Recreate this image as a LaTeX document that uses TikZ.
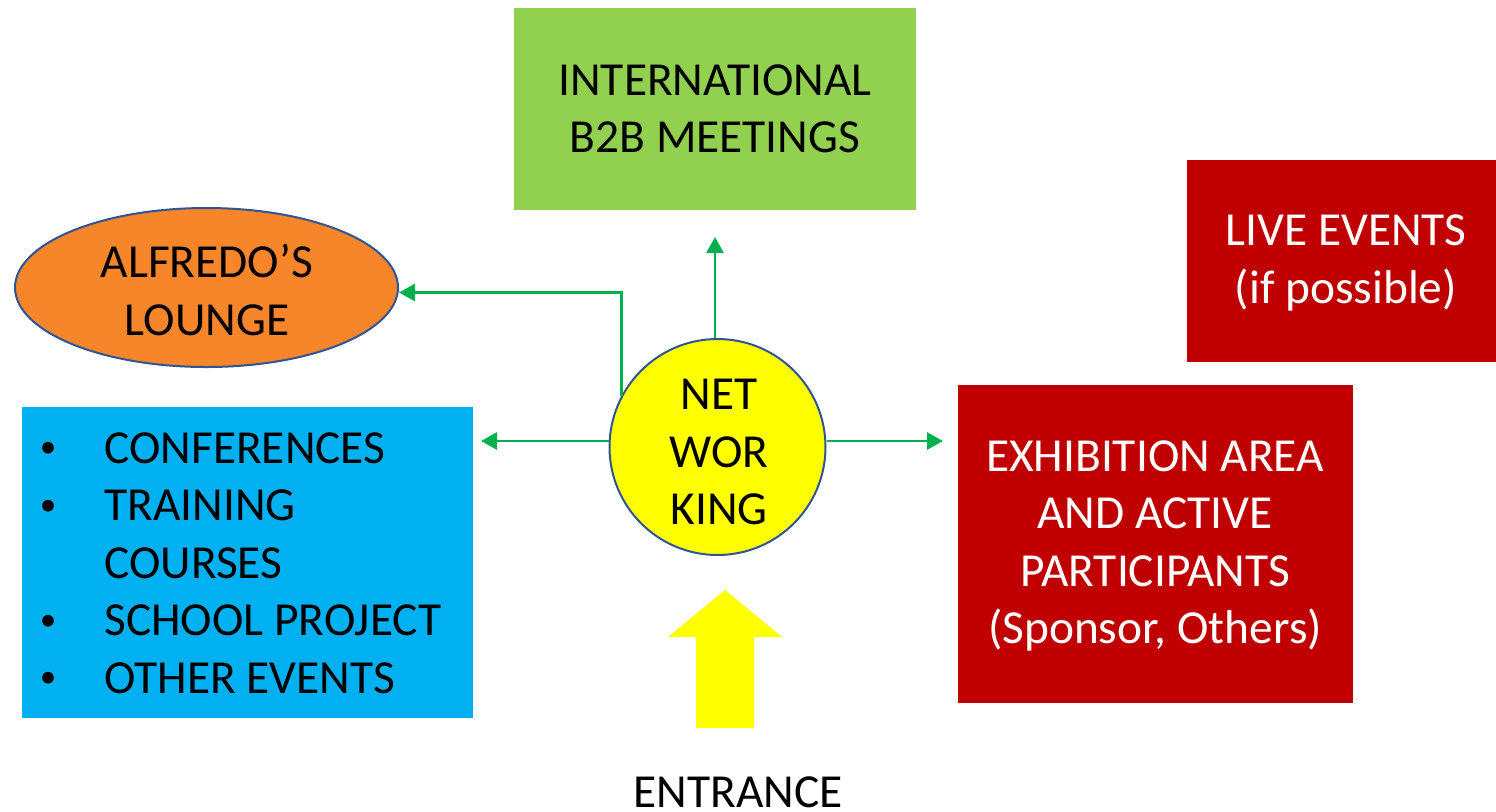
\documentclass[tikz,border=0pt]{standalone}
\usepackage{fontspec}
\setmainfont{Carlito}
\usetikzlibrary{arrows.meta,shapes.geometric}
\definecolor{bgreen}{HTML}{92D050}
\definecolor{dred}{HTML}{C00000}
\definecolor{lorange}{HTML}{F7852A}
\definecolor{lblue}{HTML}{00B0F0}
\definecolor{ylw}{HTML}{FFFF00}
\definecolor{edgeblue}{HTML}{2F5597}
\definecolor{agreen}{HTML}{00B050}
\newcommand{\mybul}{\llap{\raisebox{0.12em}{\scalebox{0.7}{\textbullet}}\hspace{24pt}}}
\tikzset{
  lbl/.style={font=\fontsize{23.7pt}{28.75pt}\selectfont, align=center, inner sep=0pt},
  boxnode/.style={draw=none, rectangle, inner sep=0pt},
  conn/.style={draw=agreen, line width=1.4pt, -{Triangle[length=8pt,width=8.5pt]}},
}
\begin{document}
\begin{tikzpicture}[x=0.5pt,y=-0.5pt]
\useasboundingbox (0,0) rectangle (1496,811);
% green box
\node[boxnode, fill=bgreen, minimum width=201pt, minimum height=101pt] (b2b) at (715,109) {};
\node[lbl] (b2bt) at (715,109) {INTERNATIONAL\\B2B MEETINGS};
% live events
\node[boxnode, fill=dred, minimum width=154.5pt, minimum height=101pt] (live) at (1341.5,261) {};
\node[lbl, text=white] (livet) at (1346,263) {LIVE EVENTS\\(if possible)};
% ellipse
\node[ellipse, draw=edgeblue, line width=1pt, fill=lorange, minimum width=191.5pt, minimum height=79.5pt, inner sep=0pt] (lounge) at (206.5,287.5) {};
\node[lbl] (lounget) at (207,290) {ALFREDO’S\\LOUNGE};
% blue box
\node[boxnode, fill=lblue, minimum width=225.5pt, minimum height=155.5pt] (conf) at (247.5,562.5) {};
\node[lbl, align=left, anchor=west] (conft) at (104,563) {%
\mybul CONFERENCES\\
\mybul TRAINING\\
COURSES\\
\mybul SCHOOL PROJECT\\
\mybul OTHER EVENTS};
% exhibition
\node[boxnode, fill=dred, minimum width=197.5pt, minimum height=159pt] (exh) at (1155.5,544) {};
\node[lbl, text=white] (exht) at (1155,546) {EXHIBITION AREA\\AND ACTIVE\\PARTICIPANTS\\(Sponsor, Others)};
% networking circle
\node[circle, draw=edgeblue, line width=1pt, fill=ylw, minimum size=108pt, inner sep=0pt] (net) at (717.5,447) {};
\node[lbl] (nett) at (719,452) {NET\\WOR\\KING};
% entrance arrow
\fill[ylw] (725,590) -- (782,637) -- (754,637) -- (754,728) -- (696,728) -- (696,637) -- (668,637) -- cycle;
\node[lbl] (entr) at (738,792) {ENTRANCE};
% connectors
\coordinate (topend) at (715,237);
\coordinate (leftend) at (481,441);
\coordinate (rightend) at (943,441);
\draw[conn] (net.north -| topend) -- (topend);
\draw[conn] (net.152) |- ([yshift=-2.5pt]lounge.east);
\draw[conn] (net.west |- leftend) -- (leftend);
\draw[conn] (net.east |- rightend) -- (rightend);
\end{tikzpicture}
\end{document}
